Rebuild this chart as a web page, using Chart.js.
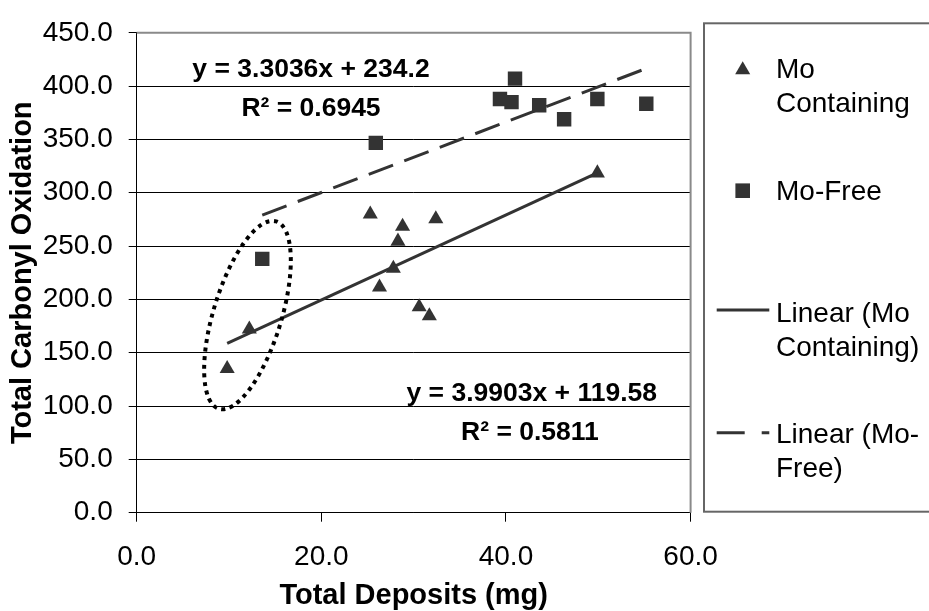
<!DOCTYPE html>
<html><head><meta charset="utf-8">
<script src="https://cdn.jsdelivr.net/npm/chart.js@4"></script>
<style>html,body{margin:0;padding:0;background:#fff;overflow:hidden}#wrap{width:929px;height:611px;position:relative}canvas{display:block}</style>
</head><body><div id="wrap"><canvas id="c" width="929" height="611"></canvas></div>
<script>
// ---- data ----
const moContX = [9.8, 12.2, 25.3, 26.3, 27.8, 28.3, 28.8, 30.6, 31.7, 32.4, 49.9];
const moContY = [135, 172, 280, 211.5, 229, 254.5, 268.5, 193, 184.5, 275.5, 318.5];
const moFreeX = [13.6, 25.9, 39.35, 40.6, 40.98, 43.6, 46.3, 49.9, 55.2];
const moFreeY = [238, 346.8, 388, 385, 407, 382, 369, 388, 383.5];
const trendContX = [9.8, 49.9];
const trendContY = [158.7, 318.7];
const trendFreeX = [13.6, 55.2];
const trendFreeY = [279.1, 416.6];
const xTicks = [0, 20, 40, 60];
const yTicks = [0, 50, 100, 150, 200, 250, 300, 350, 400, 450];
const seriesLabels = ['Mo Containing', 'Mo-Free', 'Linear (Mo Containing)', 'Linear (Mo-Free)'];
const legendLines = [['Mo', 'Containing'], ['Mo-Free'], ['Linear (Mo', 'Containing)'], ['Linear (Mo-', 'Free)']];
const eqFree = ['y = 3.3036x + 234.2', 'R\u00B2 = 0.6945'];
const eqCont = ['y = 3.9903x + 119.58', 'R\u00B2 = 0.5811'];
const xTitle = 'Total Deposits (mg)';
const yTitle = 'Total Carbonyl Oxidation';

const pts = (xs, ys) => xs.map((x, i) => ({x: x, y: ys[i]}));
const FONT = 'Liberation Sans, Arial, sans-serif';
const MARK = '#333333';
const DASH = [26, 12];

const extras = {
  id: 'extras',
  beforeDatasetsDraw(chart) {
    const {ctx, chartArea: a} = chart;
    ctx.save();
    ctx.strokeStyle = '#8a8a8a';
    ctx.lineWidth = 2;
    ctx.beginPath();
    ctx.moveTo(a.left, a.top); ctx.lineTo(a.right, a.top); ctx.lineTo(a.right, a.bottom);
    ctx.stroke();
    ctx.restore();
  },
  afterDatasetsDraw(chart) {
    const {ctx, scales: {x, y}} = chart;
    // dotted ellipse annotation
    ctx.save();
    ctx.strokeStyle = '#000';
    ctx.lineWidth = 4;
    ctx.setLineDash([4, 4.6]);
    ctx.beginPath();
    ctx.ellipse(x.getPixelForValue(12.0), y.getPixelForValue(185.3), 34, 98, 17 * Math.PI / 180, 0, Math.PI * 2);
    ctx.stroke();
    ctx.restore();
    // equations
    ctx.save();
    ctx.fillStyle = '#000';
    ctx.textAlign = 'center';
    ctx.textBaseline = 'alphabetic';
    ctx.font = 'bold 26.5px ' + FONT;
    ctx.fillText(eqFree[0], x.getPixelForValue(18.88), y.getPixelForValue(408.8));
    ctx.fillText(eqFree[1], x.getPixelForValue(18.88), y.getPixelForValue(372.0));
    ctx.fillText(eqCont[0], x.getPixelForValue(42.79), y.getPixelForValue(104.3));
    ctx.fillText(eqCont[1], x.getPixelForValue(42.6), y.getPixelForValue(68.4));
    ctx.restore();
  },
  afterDraw(chart) {
    const ctx = chart.ctx;
    ctx.save();
    // legend box
    ctx.strokeStyle = '#666';
    ctx.lineWidth = 2;
    ctx.strokeRect(704, 23.3, 300, 488.4);
    const mx = 742.7, tx = 776;
    const my = [70, 190.7, 310, 432.7];
    const base = [78.3, 200, 321.7, 443.3];
    ctx.fillStyle = MARK;
    // triangle
    ctx.beginPath();
    const r = 8.7;
    ctx.moveTo(mx, my[0] - r);
    ctx.lineTo(mx + r * Math.sqrt(3) / 2, my[0] + r / 2);
    ctx.lineTo(mx - r * Math.sqrt(3) / 2, my[0] + r / 2);
    ctx.closePath(); ctx.fill();
    // square
    ctx.fillRect(mx - 7.3, my[1] - 7.3, 14.6, 14.6);
    // lines
    ctx.strokeStyle = MARK; ctx.lineWidth = 3;
    ctx.beginPath(); ctx.moveTo(716.7, my[2]); ctx.lineTo(769.3, my[2]); ctx.stroke();
    ctx.setLineDash([28, 17]);
    ctx.beginPath(); ctx.moveTo(716.7, my[3]); ctx.lineTo(769.3, my[3]); ctx.stroke();
    ctx.setLineDash([]);
    // text
    ctx.fillStyle = '#000';
    ctx.font = '28px ' + FONT;
    ctx.textAlign = 'left'; ctx.textBaseline = 'alphabetic';
    legendLines.forEach((lines, i) => {
      lines.forEach((t, j) => ctx.fillText(t, tx, base[i] + j * 34));
    });
    ctx.restore();
  }
};

new Chart(document.getElementById('c'), {
  type: 'scatter',
  data: {
    datasets: [
      {label: seriesLabels[0], data: pts(moContX, moContY), pointStyle: 'triangle', pointRadius: 8.7,
       backgroundColor: MARK, borderColor: MARK, borderWidth: 0, order: 1},
      {label: seriesLabels[1], data: pts(moFreeX, moFreeY), pointStyle: 'rect', pointRadius: 10.2,
       backgroundColor: MARK, borderColor: MARK, borderWidth: 0, order: 1},
      {label: seriesLabels[2], type: 'line', data: pts(trendContX, trendContY), borderColor: MARK,
       borderWidth: 3, pointRadius: 0, fill: false, order: 0},
      {label: seriesLabels[3], type: 'line', data: pts(trendFreeX, trendFreeY), borderColor: MARK,
       borderWidth: 3, borderDash: DASH, pointRadius: 0, fill: false, order: 0}
    ]
  },
  options: {
    responsive: false, animation: false, devicePixelRatio: 1,
    layout: {padding: {top: 23.5, right: 929 - 690.6, left: 0, bottom: 0}},
    plugins: {legend: {display: false}, tooltip: {enabled: false}},
    scales: {
      x: {
        type: 'linear', min: 0, max: 60,
        afterBuildTicks: s => { s.ticks = xTicks.map(v => ({value: v})); },
        afterFit: s => { s.height = 611 - 512.7; },
        ticks: {callback: v => Number(v).toFixed(1), font: {family: FONT, size: 28}, color: '#000',
                padding: 19, maxRotation: 0, autoSkip: false},
        grid: {drawOnChartArea: false, drawTicks: true, tickLength: 9, color: '#000', tickColor: '#000'},
        border: {color: '#000', width: 1},
        title: {display: true, text: xTitle, color: '#000',
                font: {family: FONT, size: 29, weight: 'bold', lineHeight: 1}, padding: {top: 0, bottom: 1}}
      },
      y: {
        type: 'linear', min: 0, max: 450,
        afterBuildTicks: s => { s.ticks = yTicks.map(v => ({value: v})); },
        afterFit: s => { s.width = 136.7; },
        ticks: {callback: v => Number(v).toFixed(1), font: {family: FONT, size: 28}, color: '#000', padding: 16},
        grid: {drawTicks: true, tickLength: 8, color: c => (c.tick && c.tick.value === 450) ? '#8a8a8a' : '#000', tickColor: '#000'},
        border: {color: '#000', width: 1},
        title: {display: true, text: yTitle, color: '#000',
                font: {family: FONT, size: 29, weight: 'bold', lineHeight: 1.2}, padding: {top: 6, bottom: 0}}
      }
    }
  },
  plugins: [extras]
});
</script>
</body></html>
